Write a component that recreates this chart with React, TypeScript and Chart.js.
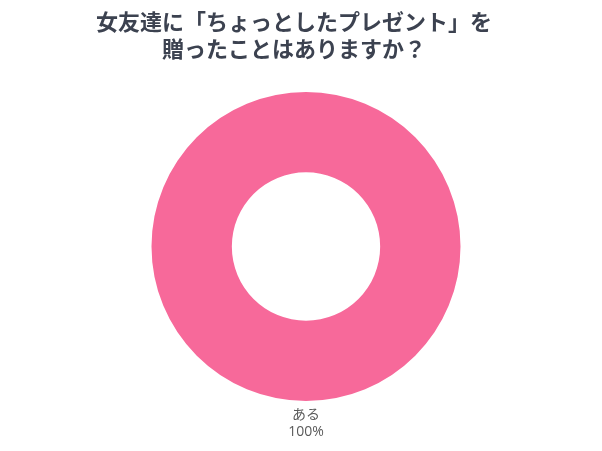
import React, { useEffect, useRef } from "react";
import { Chart, registerables } from "chart.js";

Chart.register(...registerables);

const titleLines = ["女友達に「ちょっとしたプレゼント」を", "贈ったことはありますか？"];
const categories = ["ある"];
const values = [100];
const colors = ["#f7699a"];

const labelPlugin = {
  id: "belowLabel",
  afterDraw(chart: any) {
    const ctx = chart.ctx;
    const meta = chart.getDatasetMeta(0);
    const arc = meta.data[0] as any;
    if (!arc) return;
    const total = values.reduce((a, b) => a + b, 0);
    const pct = Math.round((values[0] / total) * 100);
    const cx = arc.x;
    const bottom = arc.y + arc.outerRadius;
    ctx.save();
    ctx.fillStyle = "#5a5a5a";
    ctx.textAlign = "center";
    ctx.textBaseline = "middle";
    ctx.font = "14px 'Open Sans', 'Noto Sans CJK JP', sans-serif";
    ctx.fillText(categories[0], cx, bottom + 14);
    ctx.fillText(pct + "%", cx, bottom + 31);
    ctx.restore();
  },
};

export default function App() {
  const ref = useRef<HTMLCanvasElement | null>(null);
  useEffect(() => {
    if (!ref.current) return;
    const chart = new Chart(ref.current, {
      type: "doughnut",
      data: {
        labels: categories,
        datasets: [
          {
            data: values,
            backgroundColor: colors,
            borderWidth: 0,
          },
        ],
      },
      options: {
        animation: false,
        responsive: false,
        cutout: "48%",
        layout: { padding: { left: 151.5, right: 141.5, top: 92, bottom: 50 } },
        plugins: {
          legend: { display: false },
          tooltip: { enabled: false },
          title: { display: false },
        },
      },
      plugins: [labelPlugin],
    });
    return () => chart.destroy();
  }, []);
  return (
    <div style={{ position: "fixed", left: 0, top: 0, width: 602, height: 451, background: "#fff" }}>
      <canvas ref={ref} width={602} height={451} style={{ position: "absolute", left: 0, top: 0, width: 602, height: 451 }} />
      <div
        style={{
          position: "absolute",
          left: 0,
          top: 7,
          width: 602 - 14,
          textAlign: "center",
          fontFamily: "'Noto Sans CJK JP', sans-serif",
          fontWeight: 700,
          fontSize: 22,
          lineHeight: "27px",
          color: "#3c4250",
        }}
      >
        {titleLines.map((l, i) => (
          <div key={i}>{l}</div>
        ))}
      </div>
    </div>
  );
}
